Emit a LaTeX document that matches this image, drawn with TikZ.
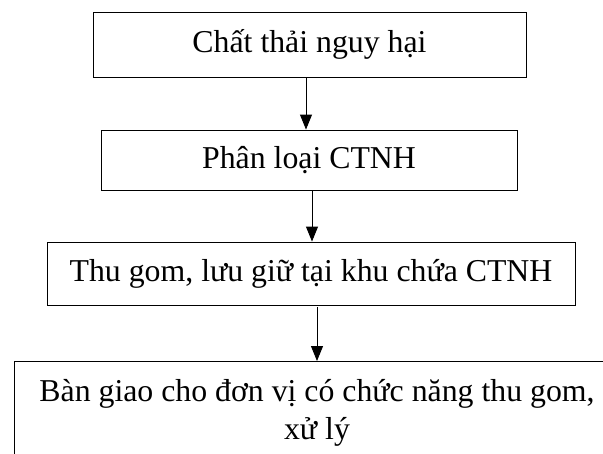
\documentclass[tikz,border=0pt]{standalone}
\usepackage{fontspec}
\setmainfont{Liberation Serif}
\usetikzlibrary{arrows.meta}

\begin{document}
\begin{tikzpicture}[
    x=1pt, y=-1pt,
    >={Triangle[length=15pt, width=12pt]},
    boxbase/.style={draw, line width=0.9pt, inner sep=0pt, align=center,
        font=\fontsize{31.8}{38}\selectfont},
    stepbox/.style={boxbase, text height=23pt, text depth=7pt},
    lastbox/.style={boxbase, anchor=north, text height=23pt},
    flow/.style={->, line width=0.9pt}
  ]
  \clip (0,0) rectangle (603,453);

  % steps, top to bottom
  \node[stepbox, minimum width=433pt, minimum height=65pt] (chat) at (309.5,44.5) {Chất thải nguy hại};
  \node[stepbox, minimum width=416pt, minimum height=60pt] (phan) at (309,160) {Phân loại CTNH};
  \node[stepbox, minimum width=528pt, minimum height=63pt] (thu) at (311,273.5) {Thu gom, lưu giữ tại khu chứa CTNH};
  % last box runs off the page at right and bottom
  \node[lastbox, minimum width=606pt, minimum height=140pt] (ban) at (317,361)
       {Bàn giao cho đơn vị có chức năng thu gom,\\ xử lý};

  % arrows between the steps
  \draw[flow] ([xshift=-3.5pt]chat.south) -- ([xshift=-3pt]phan.north);
  \draw[flow] ([xshift=3pt]phan.south) -- ([xshift=1pt]thu.north);
  \draw[flow] ([xshift=6pt,yshift=-2pt]thu.south) -- (ban.north);
\end{tikzpicture}
\end{document}
